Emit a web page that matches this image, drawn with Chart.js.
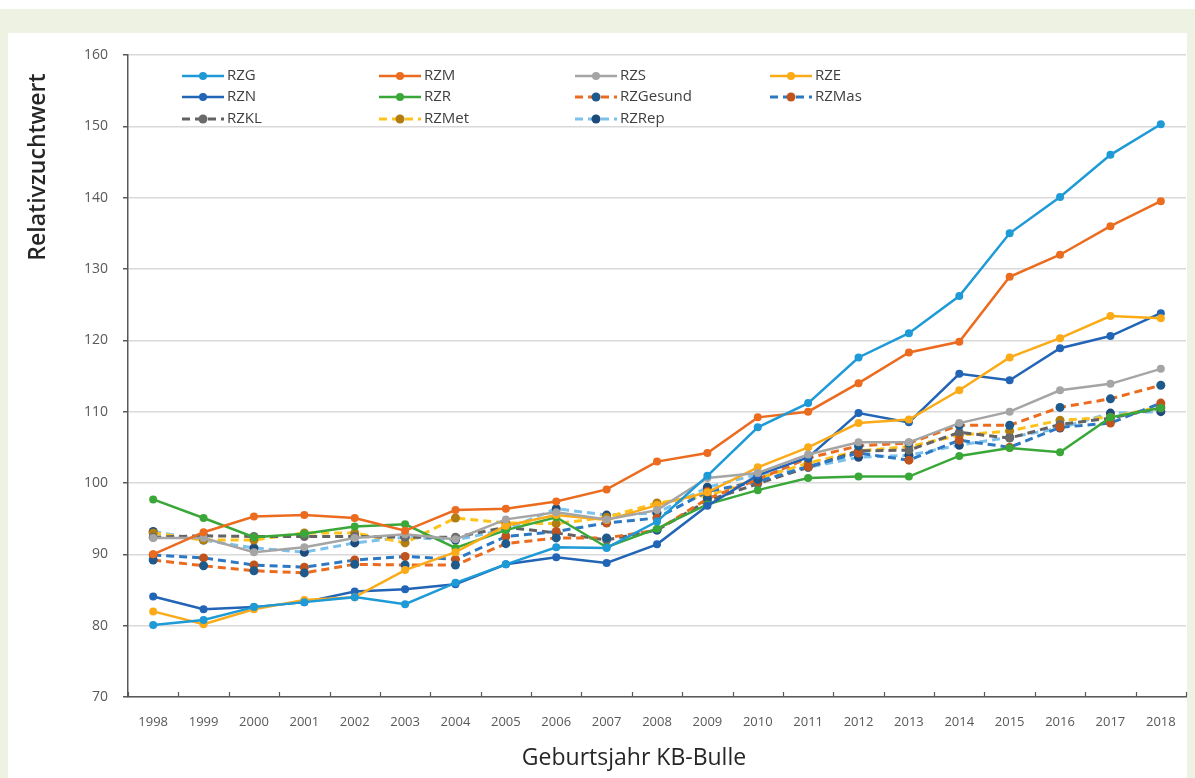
<!DOCTYPE html>
<html>
<head>
<meta charset="utf-8">
<script src="https://cdn.jsdelivr.net/npm/chart.js@4.4.0/dist/chart.umd.min.js"></script>
<style>
    html, body { margin: 0; padding: 0; }
    body { width: 1195px; height: 778px; background: #ffffff; position: relative; overflow: hidden; }
    #band { position: absolute; left: 0; top: 9px; width: 1195px; height: 769px; background: #edf2e2; }
    #panel { position: absolute; left: 8px; top: 33px; width: 1179px; height: 745px; background: #ffffff; }
    #wrap { position: absolute; left: 0; top: 0; width: 1195px; height: 778px; }
</style>
</head>
<body>
<div id="band"></div>
<div id="panel"></div>
<div id="wrap"><canvas id="zwChart"></canvas></div>
<script>
// ===== DATEN =====
const years = ['1998', '1999', '2000', '2001', '2002', '2003', '2004', '2005', '2006', '2007', '2008',
               '2009', '2010', '2011', '2012', '2013', '2014', '2015', '2016', '2017', '2018'];

const rzg      = [80.1, 80.8, 82.6, 83.3, 84.0, 83.0, 86.0, 88.6, 91.0, 90.9, 94.6, 101.0, 107.8, 111.2, 117.6, 121.0, 126.2, 135.0, 140.1, 146.0, 150.3];
const rzm      = [90.0, 93.1, 95.3, 95.5, 95.1, 93.3, 96.2, 96.4, 97.4, 99.1, 103.0, 104.2, 109.2, 110.0, 114.0, 118.3, 119.8, 128.9, 132.0, 136.0, 139.5];
const rzs      = [92.3, 92.3, 90.3, 91.0, 92.3, 92.8, 92.1, 94.9, 95.9, 94.9, 96.2, 100.7, 101.4, 104.0, 105.7, 105.7, 108.4, 110.0, 113.0, 113.9, 116.0];
const rze      = [82.0, 80.2, 82.3, 83.6, 84.0, 87.8, 90.3, 94.0, 95.5, 94.8, 96.9, 98.7, 102.2, 105.0, 108.4, 108.9, 113.0, 117.6, 120.3, 123.4, 123.1];
const rzn      = [84.1, 82.3, 82.6, 83.3, 84.8, 85.1, 85.8, 88.6, 89.6, 88.8, 91.4, 96.8, 101.1, 103.6, 109.8, 108.5, 115.3, 114.4, 118.9, 120.6, 123.8];
const rzr      = [97.7, 95.1, 92.4, 92.9, 93.9, 94.2, 90.9, 93.4, 95.2, 91.0, 93.6, 97.0, 99.0, 100.7, 100.9, 100.9, 103.8, 104.9, 104.3, 109.2, 110.5];
const rzGesund = [89.2, 88.4, 87.7, 87.4, 88.6, 88.5, 88.5, 91.5, 92.3, 92.3, 93.4, 97.8, 100.5, 103.5, 105.2, 105.6, 108.1, 108.1, 110.6, 111.8, 113.7];
const rzMas    = [89.9, 89.5, 88.5, 88.2, 89.2, 89.7, 89.3, 92.5, 93.2, 94.4, 95.1, 98.8, 100.2, 102.3, 104.2, 103.2, 106.0, 105.0, 107.8, 108.4, 111.2];
const rzKL     = [92.4, 92.6, 92.5, 92.5, 92.5, 92.4, 92.4, 93.8, 93.0, 92.0, 93.4, 97.5, 99.9, 102.2, 104.5, 104.6, 107.1, 106.3, 108.2, 109.1, 110.5];
const rzMet    = [93.0, 92.0, 92.0, 93.0, 93.0, 91.6, 95.1, 94.4, 94.3, 95.2, 97.2, 98.2, 100.6, 102.8, 104.5, 105.1, 106.7, 107.3, 108.8, 109.2, 110.7];
const rzRep    = [93.2, 92.0, 90.9, 90.3, 91.6, 92.4, 92.0, 93.5, 96.4, 95.5, 95.8, 99.4, 101.2, 102.2, 103.6, 103.9, 105.3, 106.4, 107.7, 109.8, 110.0];

const yTicks = [70, 80, 90, 100, 110, 120, 130, 140, 150, 160];

// ===== STILE =====
const FONT = "'Open Sans', 'DejaVu Sans', sans-serif";

function solidSet(label, data, color) {
    return {
        label: label,
        data: data,
        borderColor: color,
        backgroundColor: color,
        borderWidth: 2.5,
        pointRadius: 4,
        pointHoverRadius: 4,
        pointBackgroundColor: color,
        pointBorderColor: color,
        pointBorderWidth: 0,
        tension: 0,
        fill: false
    };
}

function dashedSet(label, data, lineColor, markerColor) {
    return {
        label: label,
        data: data,
        borderColor: lineColor,
        backgroundColor: markerColor,
        borderWidth: 3,
        borderDash: [8, 5],
        pointRadius: 4.5,
        pointHoverRadius: 4.5,
        pointBackgroundColor: markerColor,
        pointBorderColor: markerColor,
        pointBorderWidth: 0,
        tension: 0,
        fill: false
    };
}

const datasets = [
    solidSet('RZG', rzg, '#1e9ad6'),
    solidSet('RZM', rzm, '#eb6b1f'),
    solidSet('RZS', rzs, '#a5a5a5'),
    solidSet('RZE', rze, '#fbab18'),
    solidSet('RZN', rzn, '#2264b6'),
    solidSet('RZR', rzr, '#3aa838'),
    dashedSet('RZGesund', rzGesund, '#eb6b1f', '#1f5a8c'),
    dashedSet('RZMas', rzMas, '#2c78c2', '#c0541c'),
    dashedSet('RZKL', rzKL, '#636363', '#6a6a6a'),
    dashedSet('RZMet', rzMet, '#ffc21a', '#b27e12'),
    dashedSet('RZRep', rzRep, '#7cc1ec', '#1c4b7c')
];

// Legende innerhalb der Zeichenfläche (4 Spalten, 3 Zeilen)
const legendCols = [182, 379, 575, 770];
const legendRows = [76, 97, 119];

const customDraw = {
    id: 'customDraw',
    afterDraw(chart) {
        const ctx = chart.ctx;
        const xScale = chart.scales.x;
        const area = chart.chartArea;

        // Achsenstriche auf der x-Achse (nach innen, zwischen Kategorien)
        const step = xScale.getPixelForValue(1) - xScale.getPixelForValue(0);
        ctx.save();
        ctx.strokeStyle = '#595959';
        ctx.lineWidth = 1.2;
        for (let i = 0; i <= years.length; i++) {
            const x = Math.round(xScale.getPixelForValue(0) - step / 2 + i * step) + 0.5;
            ctx.beginPath();
            ctx.moveTo(x, area.bottom);
            ctx.lineTo(x, area.bottom - 5);
            ctx.stroke();
        }
        ctx.restore();

        // Legende
        ctx.save();
        ctx.font = '15px ' + FONT;
        ctx.textBaseline = 'middle';
        ctx.textAlign = 'left';
        chart.data.datasets.forEach((ds, i) => {
            const x = legendCols[i % 4];
            const y = legendRows[Math.floor(i / 4)];
            ctx.beginPath();
            ctx.setLineDash(ds.borderDash || []);
            ctx.strokeStyle = ds.borderColor;
            ctx.lineWidth = ds.borderWidth;
            ctx.moveTo(x, y);
            ctx.lineTo(x + 42, y);
            ctx.stroke();
            ctx.setLineDash([]);
            ctx.beginPath();
            ctx.fillStyle = ds.pointBackgroundColor;
            ctx.arc(x + 21, y, ds.pointRadius, 0, Math.PI * 2);
            ctx.fill();
            ctx.fillStyle = '#404040';
            ctx.fillText(ds.label, x + 45, y);
        });
        ctx.restore();

        // Achsentitel
        ctx.save();
        ctx.fillStyle = '#262626';
        ctx.font = '600 23px ' + FONT;
        ctx.textAlign = 'center';
        ctx.textBaseline = 'middle';
        ctx.translate(38, 167);
        ctx.rotate(-Math.PI / 2);
        ctx.fillText('Relativzuchtwert', 0, 0);
        ctx.restore();

        ctx.save();
        ctx.fillStyle = '#262626';
        ctx.font = '23px ' + FONT;
        ctx.textAlign = 'center';
        ctx.textBaseline = 'middle';
        ctx.fillText('Geburtsjahr KB-Bulle', 634, 758);
        ctx.restore();
    }
};

const ctx = document.getElementById('zwChart').getContext('2d');
const chart = new Chart(ctx, {
    type: 'line',
    data: {
        labels: years,
        datasets: datasets
    },
    options: {
        responsive: true,
        maintainAspectRatio: false,
        animation: false,
        layout: {
            padding: { top: 55, right: 9, left: 0, bottom: 0 }
        },
        plugins: {
            legend: { display: false },
            tooltip: { enabled: false }
        },
        scales: {
            x: {
                type: 'category',
                offset: true,
                afterFit: function(scale) { scale.height = 81; },
                grid: { display: false, drawTicks: false },
                border: { display: true, color: '#595959', width: 1.5 },
                ticks: {
                    color: '#595959',
                    font: { family: FONT, size: 13 },
                    padding: 17,
                    maxRotation: 0,
                    autoSkip: false
                }
            },
            y: {
                min: 70,
                max: 160,
                afterFit: function(scale) { scale.width = 128; },
                afterBuildTicks: function(scale) {
                    scale.ticks = yTicks.map(v => ({ value: v }));
                },
                grid: {
                    color: '#d9d9d9',
                    lineWidth: 1.5,
                    tickColor: '#595959',
                    tickLength: 5,
                    drawTicks: true
                },
                border: { display: true, color: '#595959', width: 1.5 },
                ticks: {
                    color: '#595959',
                    font: { family: FONT, size: 14 },
                    padding: 15
                }
            }
        }
    },
    plugins: [customDraw]
});
</script>
</body>
</html>
